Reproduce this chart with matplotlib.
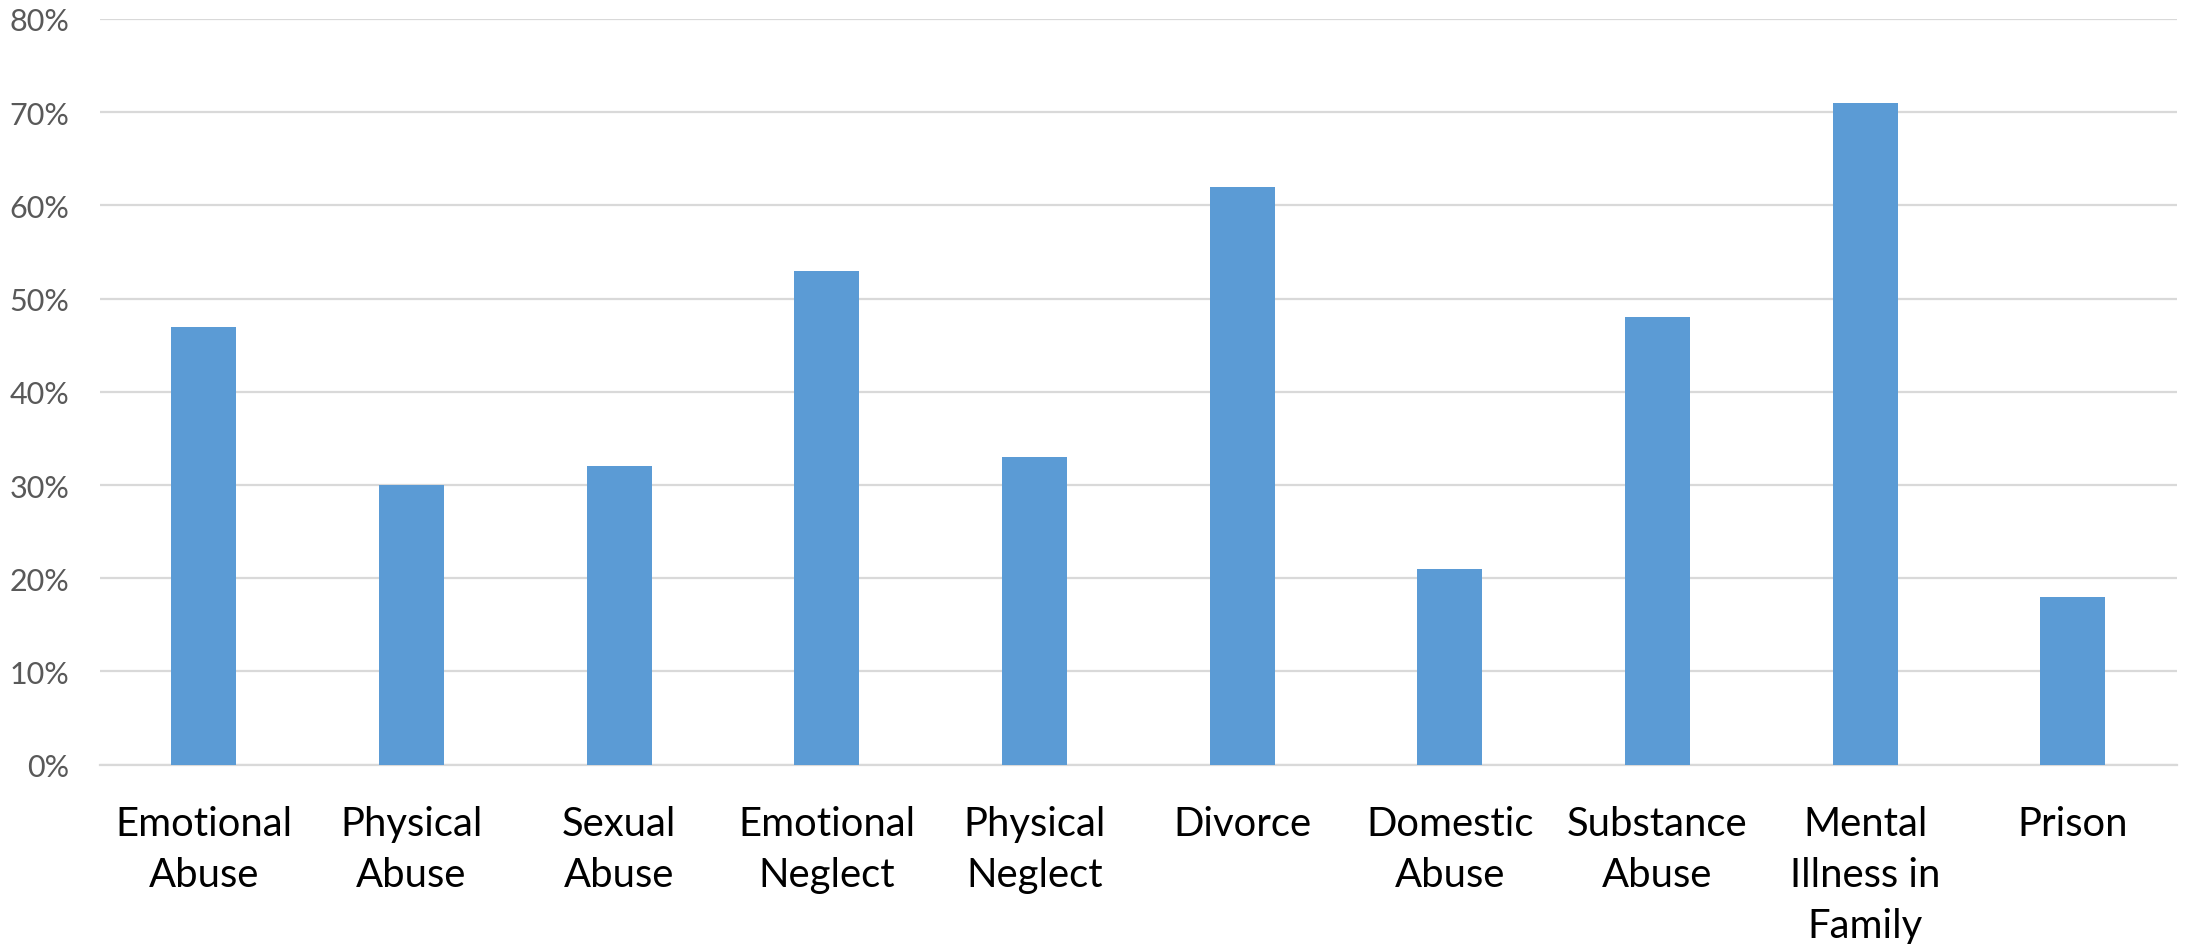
import matplotlib
matplotlib.use("Agg")
import matplotlib.pyplot as plt
from matplotlib.ticker import FuncFormatter, MultipleLocator

categories = ["Emotional\nAbuse", "Physical\nAbuse", "Sexual\nAbuse", "Emotional\nNeglect",
              "Physical\nNeglect", "Divorce", "Domestic\nAbuse", "Substance\nAbuse",
              "Mental\nIllness in\nFamily", "Prison"]
values = [0.47, 0.30, 0.32, 0.53, 0.33, 0.62, 0.21, 0.48, 0.71, 0.18]

plt.rcParams['font.family'] = ['Lato', 'DejaVu Sans']

fig = plt.figure(figsize=(21.9, 9.45), dpi=100)
ax = fig.add_axes([100/2190, 1-765.7/945, 2076.7/2190, 745.7/945])

x = range(len(categories))
ax.bar(x, values, width=0.313, color="#5b9bd5", zorder=3)

ax.set_xlim(-0.5, len(categories) - 0.5)
ax.set_ylim(0, 0.8)
ax.yaxis.set_major_locator(MultipleLocator(0.1))
ax.yaxis.set_major_formatter(FuncFormatter(lambda v, p: f"{v*100:.0f}%"))
ax.grid(axis="y", color="#d9d9d9", linewidth=1.6, zorder=0)
for s in ["top", "right", "left"]:
    ax.spines[s].set_visible(False)
ax.spines["bottom"].set_color("#d9d9d9")
ax.spines["bottom"].set_linewidth(1.6)

ax.set_xticks(list(x))
ax.set_xticklabels(categories, fontsize=28.8, color="black", linespacing=1.46, va="top")
ax.tick_params(axis="x", length=0, pad=29)
ax.tick_params(axis="y", length=0, pad=22, labelsize=22, labelcolor="#595959")

fig.savefig("out.png", dpi=100, facecolor="white")
